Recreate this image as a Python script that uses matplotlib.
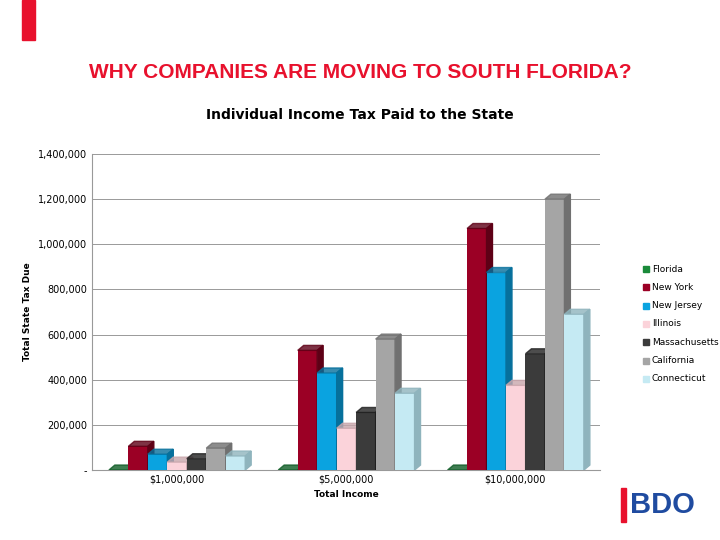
import matplotlib.pyplot as plt
from matplotlib.patches import Polygon, Rectangle
import numpy as np

incomes = ["$1,000,000", "$5,000,000", "$10,000,000"]
states = ["Florida", "New York", "New Jersey", "Illinois", "Massachusetts", "California", "Connecticut"]
taxes = {
    "Florida": [0, 0, 0],
    "New York": [105000, 530000, 1070000],
    "New Jersey": [70000, 430000, 875000],
    "Illinois": [35000, 185000, 375000],
    "Massachusetts": [50000, 255000, 515000],
    "California": [97000, 580000, 1200000],
    "Connecticut": [62000, 340000, 690000],
}
colors = ["#1a8a3a", "#9b0025", "#0aa3e0", "#fbd3da", "#3b3b3b", "#a5a5a5", "#c5eaf3"]
sides = ["#0f5c26", "#5e0016", "#06709c", "#c9a6ac", "#202020", "#707070", "#8fb4bd"]

fig = plt.figure(figsize=(7.2, 5.4), dpi=100)
fig.patches.append(Rectangle((22 / 720, 1 - 40 / 540), 13 / 720, 40 / 540, transform=fig.transFigure, color="#e8112d"))
fig.text(0.5, 1 - 72 / 540, "WHY COMPANIES ARE MOVING TO SOUTH FLORIDA?", ha="center", va="center",
         color="#e8112d", fontsize=15, fontweight="bold", family="Liberation Sans")
fig.text(0.5, 1 - 115 / 540, "Individual Income Tax Paid to the State", ha="center", va="center",
         fontsize=10, fontweight="bold")
fig.text(630 / 720, 1 - 505 / 540, "BDO", ha="left", va="center", fontsize=21, fontweight="bold",
         color="#1f4ba0", family="Liberation Sans")
fig.patches.append(Rectangle((621 / 720, 1 - 522 / 540), 5 / 720, 34 / 540, transform=fig.transFigure, color="#e8112d"))

ax = fig.add_axes([92 / 720, 1 - 470 / 540, 508 / 720, 316 / 540])
ax.set_xlim(0, 3)
ax.set_ylim(0, 1400000)
ax.set_yticks(np.arange(0, 1400001, 200000))
ax.set_yticklabels(["-"] + [f"{v:,}" for v in range(200000, 1400001, 200000)], fontsize=7)
ax.grid(axis="y", color="#999999", lw=0.7)
ax.set_axisbelow(True)
ax.set_xticks([0.5, 1.5, 2.5])
ax.set_xticklabels(incomes, fontsize=7)
ax.tick_params(length=0)
for s in ["top", "right"]:
    ax.spines[s].set_visible(False)
ax.spines["left"].set_color("#999999")
ax.spines["bottom"].set_color("#999999")
ax.set_xlabel("Total Income", fontsize=6.5, fontweight="bold")
ax.set_ylabel("Total State Tax Due", fontsize=6.5, fontweight="bold")

w = 0.115
dx, dy = 0.035, 22000
for i, st in enumerate(states):
    for g in range(3):
        x0 = 0.1 + g + i * w
        h = taxes[st][g]
        ax.bar(x0, h, w, align="edge", color=colors[i], zorder=3)
        ax.add_patch(Polygon([(x0 + w, 0), (x0 + w + dx, dy), (x0 + w + dx, h + dy), (x0 + w, h)],
                             color=sides[i], zorder=3))
        ax.add_patch(Polygon([(x0, h), (x0 + dx, h + dy), (x0 + w + dx, h + dy), (x0 + w, h)],
                             color=sides[i], alpha=0.8, zorder=3))

for i, st in enumerate(states):
    fig.patches.append(Rectangle((643 / 720, 1 - (272 + i * 18.3) / 540), 6 / 720, 6 / 540,
                                 transform=fig.transFigure, color=colors[i]))
    fig.text(652 / 720, 1 - (269 + i * 18.3) / 540, st, fontsize=6.5, va="center")

fig.savefig("out.png")
